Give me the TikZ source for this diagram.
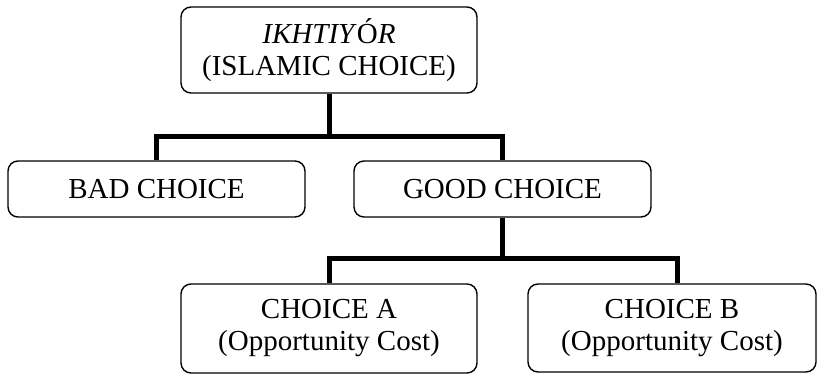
\documentclass[tikz,border=0pt]{standalone}
\usepackage{fontspec}
\setmainfont{Liberation Serif}
\usepackage{tikz}

\begin{document}
\begin{tikzpicture}[x=1pt,y=-1pt,
  choicebox/.style={draw, rounded corners=10pt, line width=1.4pt, align=center,
    inner sep=0pt, font=\fontsize{29}{32}\selectfont},
  link/.style={line width=5pt, line join=miter}]
\useasboundingbox (0,0) rectangle (818,375);
\node[choicebox, minimum width=296pt, minimum height=86pt] (top) at (329,50) {\textit{IKHTIY}Ó\textit{R}\\(ISLAMIC CHOICE)};
\node[choicebox, minimum width=297pt, minimum height=56pt] (bad) at (156.5,189) {BAD CHOICE};
\node[choicebox, minimum width=297pt, minimum height=56pt] (good) at (502.5,189) {GOOD CHOICE};
\node[choicebox, minimum width=296pt, minimum height=89pt] (chA) at (329,328.5) {CHOICE A\\(Opportunity Cost)};
\node[choicebox, minimum width=288pt, minimum height=88pt] (chB) at (672,328) {CHOICE B\\(Opportunity Cost)};
\coordinate (j1) at (329,136);
\coordinate (j2) at (502.5,258);
\draw[link] (top.south) -- (j1);
\draw[link] (j1) -| (bad.north);
\draw[link] (j1) -| (good.north);
\draw[link] (good.south) -- (j2);
\draw[link] (j2) -| (chA.north);
\draw[link] (j2) -| ([xshift=5pt]chB.north);
\end{tikzpicture}
\end{document}
